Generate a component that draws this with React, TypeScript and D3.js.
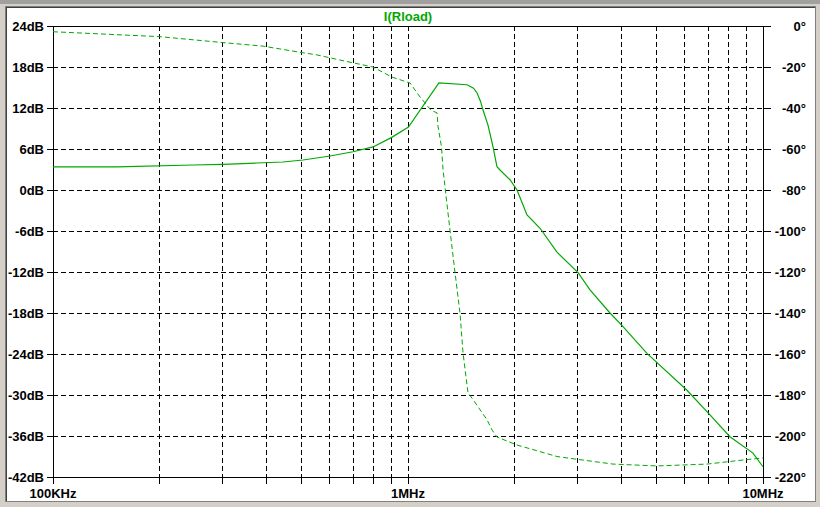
import React from "react";
import * as d3 from "d3";

const magFreq = [1e5, 1.514e5, 2.48e5, 3.01e5, 3.75e5, 4.44e5, 5.06e5, 6.03e5, 7.0e5, 7.97e5, 9.0e5, 1.003e6, 1.222e6, 1.466e6, 1.53e6, 1.565e6, 1.6e6, 1.627e6, 1.68e6, 1.736e6, 1.781e6, 1.816e6, 1.938e6, 2.028e6, 2.164e6, 2.355e6, 2.628e6, 3.013e6, 3.256e6, 3.707e6, 4.033e6, 4.712e6, 6.107e6, 7.09e6, 8.07e6, 9.37e6, 1e7];
const magDb = [3.37, 3.37, 3.66, 3.75, 3.95, 4.1, 4.39, 4.98, 5.6, 6.3, 7.7, 9.2, 15.66, 15.4, 14.9, 14.2, 13.0, 11.7, 9.5, 6.3, 3.4, 2.93, 1.5, 0, -3.66, -5.6, -9.1, -12.1, -14.6, -18, -20, -23.9, -29.3, -32.9, -36.1, -38.5, -40.5];

const phFreq = [1e5, 2.0e5, 3.01e5, 3.9e5, 4.96e5, 5.54e5, 6.43e5, 7.97e5, 9.0e5, 1.013e6, 1.081e6, 1.16e6, 1.207e6, 1.215e6, 1.243e6, 1.255e6, 1.28e6, 1.313e6, 1.356e6, 1.401e6, 1.429e6, 1.476e6, 1.514e6, 1.669e6, 1.724e6, 1.781e6, 2.028e6, 2.628e6, 2.805e6, 3.779e6, 5.03e6, 6.96e6, 8.785e6, 1e7];
const phDeg = [-2.8, -5.2, -8.1, -9.8, -12.8, -14.1, -16.6, -20, -24.9, -27.8, -34.6, -41, -42.4, -49, -59, -70, -83, -99.5, -120, -140, -159.5, -179, -181.5, -192, -197, -200.5, -204.4, -210, -210.7, -213.7, -214.6, -213.7, -211.7, -210.7];

const dbTicks = [24, 18, 12, 6, 0, -6, -12, -18, -24, -30, -36, -42];
const degTicks = [0, -20, -40, -60, -80, -100, -120, -140, -160, -180, -200, -220];
const freqLabels = [
  { f: 1e5, label: "100KHz" },
  { f: 1e6, label: "1MHz" },
  { f: 1e7, label: "10MHz" },
];
const title = "I(Rload)";

export default function App() {
  const W = 820, H = 507;
  const left = 53, right = 763, top = 26, bottom = 477;
  const x = d3.scaleLog().domain([1e5, 1e7]).range([left, right]);
  const yL = d3.scaleLinear().domain([-42, 24]).range([bottom, top]);
  const yR = d3.scaleLinear().domain([-220, 0]).range([bottom, top]);
  const green = "#00a800";
  const font = "'Liberation Sans', Arial, sans-serif";

  const vGrid: number[] = [];
  for (let dec = 1e5; dec < 1e7; dec *= 10) {
    for (let k = 2; k <= 10; k++) vGrid.push(dec * k);
  }

  const magLine = d3.line<number>().x((_, i) => x(magFreq[i])).y((d) => yL(d))(magDb) || "";
  const phLine = d3.line<number>().x((_, i) => x(phFreq[i])).y((d) => yR(d))(phDeg) || "";

  return (
    <svg width={W} height={H} style={{ position: "absolute", left: 0, top: 0, display: "block" }} shapeRendering="crispEdges">
      <rect x={0} y={0} width={W} height={H} fill="#d4d0c8" />
      <rect x={0} y={0} width={W} height={4} fill="#a0a0a0" />
      <rect x={5} y={6} width={811} height={496} fill="#808080" />
      <rect x={6} y={7} width={809} height={494} fill="#404040" />
      <rect x={7} y={8} width={808} height={493} fill="#ffffff" />

      {dbTicks.map((t) => (
        <g key={"h" + t}>
          {t !== 24 && t !== -42 && (
            <line x1={left} x2={right} y1={yL(t)} y2={yL(t)} stroke="#000" strokeDasharray="5,3" />
          )}
          <line x1={left - 6} x2={left} y1={yL(t)} y2={yL(t)} stroke="#000" />
          <line x1={right} x2={right + 8} y1={yL(t)} y2={yL(t)} stroke="#000" />
          <text x={44} y={yL(t) + 5} textAnchor="end" fontFamily={font} fontWeight="bold" fontSize={13} fill="#000">
            {t + "dB"}
          </text>
        </g>
      ))}
      {degTicks.map((t) => (
        <text key={"r" + t} x={806} y={yR(t) + 5} textAnchor="end" fontFamily={font} fontWeight="bold" fontSize={13} fill="#000">
          {t + "°"}
        </text>
      ))}

      {vGrid.map((f) => (
        <g key={"v" + f}>
          {f < 1e7 && <line x1={x(f)} x2={x(f)} y1={top} y2={bottom} stroke="#000" strokeDasharray="5,3" />}
          <line x1={x(f)} x2={x(f)} y1={bottom} y2={bottom + 7} stroke="#000" />
        </g>
      ))}
      <line x1={left} x2={left} y1={bottom} y2={bottom + 7} stroke="#000" />

      <line x1={left} x2={left} y1={top} y2={bottom} stroke="#000" />
      <line x1={right} x2={right} y1={top} y2={bottom} stroke="#000" />
      <line x1={left} x2={right} y1={top} y2={top} stroke="#000" />
      <line x1={left} x2={right} y1={bottom} y2={bottom} stroke="#000" />

      {freqLabels.map((d) => (
        <text key={d.label} x={x(d.f)} y={498} textAnchor="middle" fontFamily={font} fontWeight="bold" fontSize={13} fill="#000">
          {d.label}
        </text>
      ))}

      <text x={(left + right) / 2} y={21} textAnchor="middle" fontFamily={font} fontWeight="bold" fontSize={13} fill={green}>
        {title}
      </text>

      <g shapeRendering="auto">
        <path d={phLine} fill="none" stroke={green} strokeWidth={1} strokeDasharray="5,3" />
        <path d={magLine} fill="none" stroke={green} strokeWidth={1.2} />
      </g>
    </svg>
  );
}
